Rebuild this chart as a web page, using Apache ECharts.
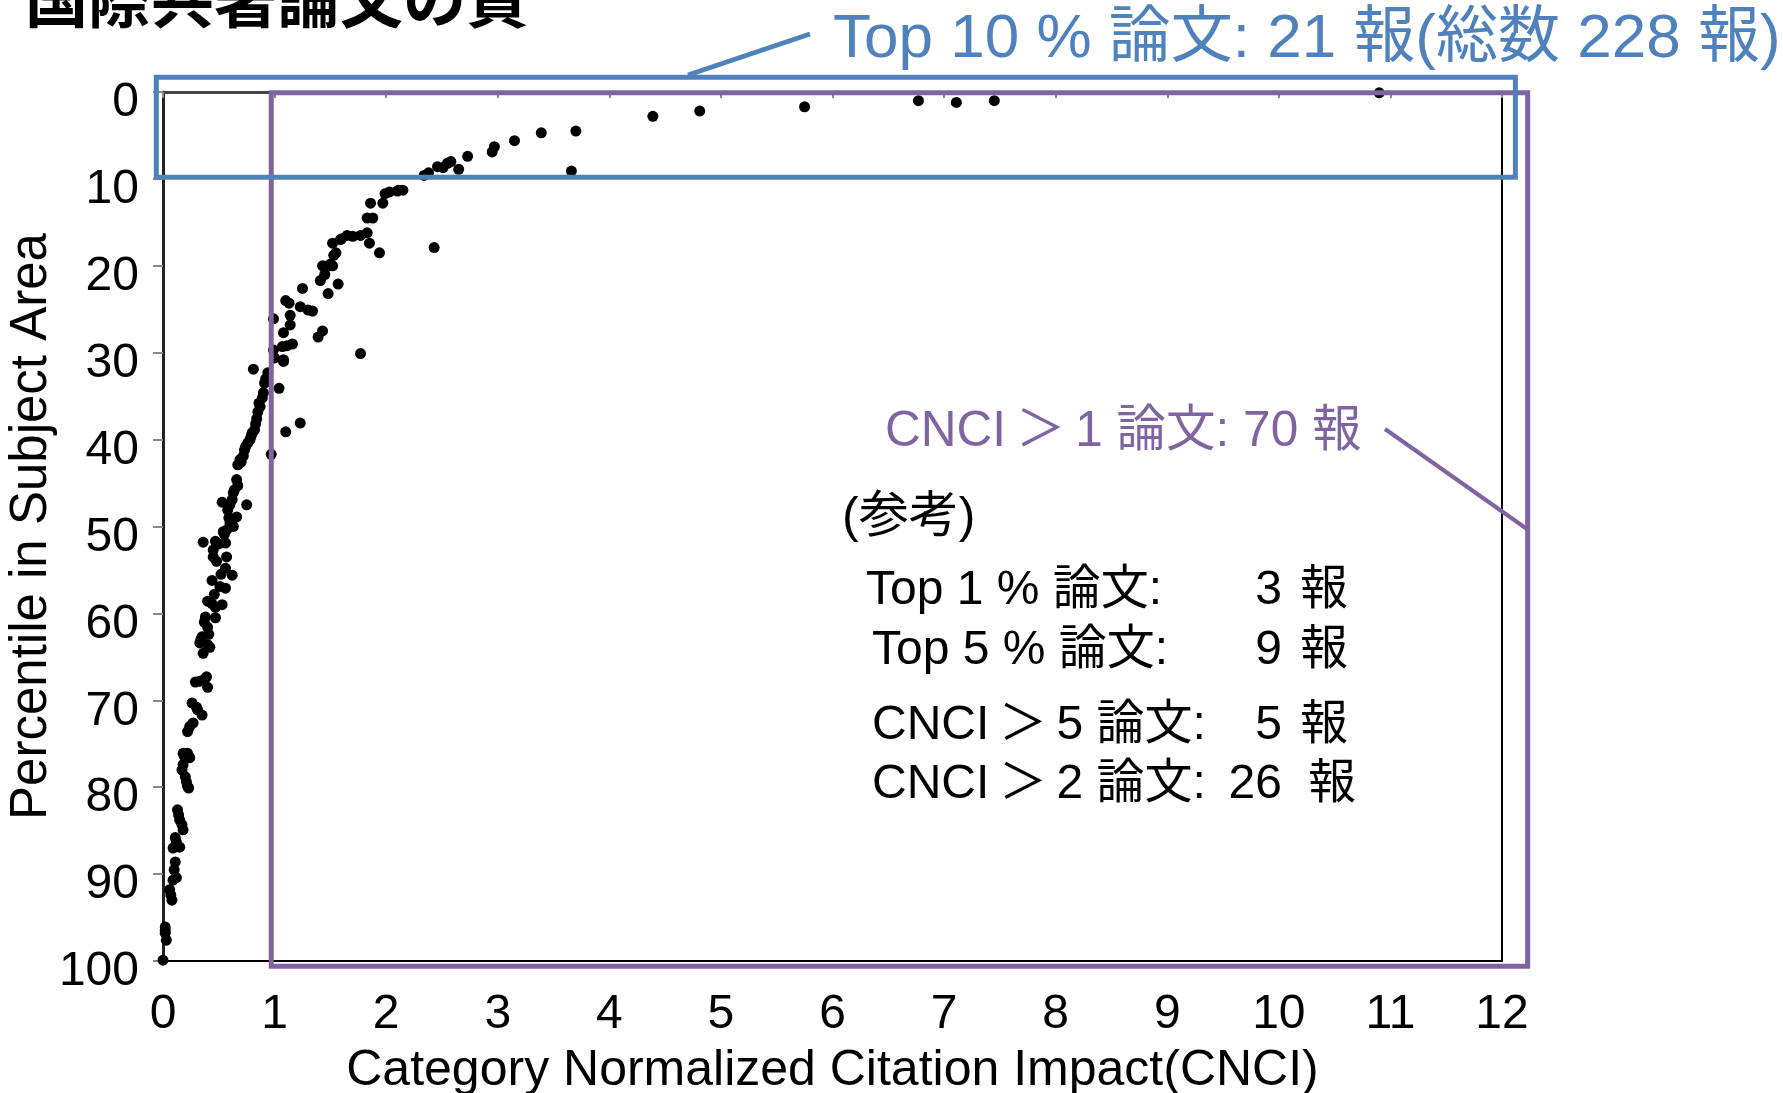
<!DOCTYPE html>
<html><head><meta charset="utf-8">
<script src="https://cdn.jsdelivr.net/npm/echarts@6/dist/echarts.min.js"></script>
<style>html,body{margin:0;padding:0;background:#fff}#c{width:1783px;height:1093px}</style>
</head><body><div id="c"></div>
<script>
// CNCI (x) vs Percentile in Subject Area (y)
const papersTop = [
  [10.9,0.1],[7.45,1.0],[7.11,1.2],[6.77,1.0],[5.75,1.7],[4.81,2.2],[4.39,2.8],[3.70,4.5],[3.39,4.7],[3.15,5.6],
  [2.97,6.3],[2.95,6.9],[2.73,7.4],[2.55,8.2],[2.51,8.7],[2.65,8.9],[2.58,8.0],[3.66,9.1],[2.38,9.3],[2.34,9.6],[2.46,8.6]
];
const papersMid = [
  [2.11,11.3],[2.15,11.3],[2.03,11.5],[2.10,11.4],[1.99,11.7],[1.86,12.8],[1.97,12.8],[1.83,14.5],[1.88,14.5],[1.83,16.2],
  [1.77,16.5],[1.70,16.6],[1.65,16.5],[1.59,17.0],[1.52,17.4],[1.85,17.4],[1.94,18.5],[2.43,17.9],[1.53,18.8],
  [1.55,18.5],[1.50,19.8],[1.60,16.9],[1.45,21.0],[1.10,24.0],[1.16,29.0],
  [1.43,20.0],[1.52,20.0],[1.47,20.1],[1.41,21.7],[1.57,22.1],[1.48,23.2],[1.25,22.6],[1.13,24.3],[1.23,24.7],[1.34,25.2],
  [1.30,25.1],[1.14,25.7],[0.99,26.1],[1.14,26.8],[1.08,27.7],[1.43,27.5],[1.39,28.2],[1.11,29.2],[1.07,29.3],[0.99,29.7],
  [1.77,30.1],[1.08,30.8],[1.00,30.6],[0.81,31.9],[0.94,32.3]
];
const papersLow = [
  [1.08,31.0],[0.91,33.5],[0.90,34.6],[1.04,34.1],[0.87,36.2],[0.85,36.8],[0.84,37.6],[1.23,38.1],[1.10,39.1],[0.82,38.9],
  [0.79,39.6],[0.76,40.4],[0.73,41.2],[0.72,41.9],[0.97,41.7],[0.67,42.9],[0.69,42.3],
  [0.92,33.0],[0.89,35.2],[0.86,35.8],[0.83,38.2],[0.78,40.0],[0.74,40.8],[0.70,42.6],[0.80,39.2],
  [0.66,44.6],[0.67,45.3],[0.63,46.1],[0.62,46.9],[0.53,47.2],[0.75,47.5],[0.58,48.1],[0.66,48.9],[0.60,49.6],[0.57,50.4],
  [0.63,50.0],[0.54,50.6],[0.36,51.8],[0.47,51.7],[0.56,51.9],[0.45,52.7],[0.57,53.5],[0.45,53.5],[0.56,54.8],[0.62,55.6],
  [0.44,56.2],[0.51,56.9],[0.56,57.1],[0.40,58.6],[0.53,59.0],[0.47,59.3],[0.38,60.4],[0.47,60.5],[0.40,61.6],[0.35,62.7],
  [0.33,63.4],[0.40,63.6],[0.42,63.9],[0.36,64.6],
  [0.64,45.8],[0.60,47.5],[0.59,49.0],[0.55,50.9],[0.50,52.0],[0.48,54.0],[0.52,55.5],[0.46,57.8],[0.44,58.9],[0.37,61.0],
  [0.34,63.0],[0.41,62.4]
];
const papersBottom = [
  [0.29,67.9],[0.39,67.3],[0.40,68.5],[0.26,70.3],[0.31,71.1],[0.35,71.7],[0.27,72.6],[0.22,73.6],[0.22,76.1],[0.18,76.1],
  [0.24,76.6],[0.17,78.0],[0.20,78.8],[0.21,79.4],[0.23,80.1],[0.13,82.6],[0.15,83.8],[0.18,84.9],[0.11,85.8],[0.15,86.9],
  [0.09,87.0],[0.11,88.6],[0.09,90.7],[0.12,90.4],[0.06,91.8],[0.08,93.0],[0.02,96.1],[0.02,96.8],[0.03,97.6],[0.0,99.9],
  [0.33,67.8],[0.37,67.6],[0.30,70.8],[0.24,73.0],[0.19,76.4],[0.18,77.4],[0.22,79.9],[0.14,83.2],[0.17,84.3],[0.12,86.3],
  [0.10,89.5],[0.07,92.4],[0.02,96.5]
];
const allPapers = papersTop.concat(papersMid, papersLow, papersBottom);

const titleText = '国際共著論文の質';
const xName = 'Category Normalized Citation Impact(CNCI)';
const yName = 'Percentile in Subject Area';
const blueNote = 'Top 10 % 論文: 21 報(総数 228 報)';
const purpleNote = 'CNCI\u2009＞\u20091 論文: 70 報';
const refHead = '(参考)';
const refRows = [
  ['Top 1 % 論文:', '3'],
  ['Top 5 % 論文:', '9'],
  ['CNCI\u2009＞\u20095 論文:', '5'],
  ['CNCI\u2009＞\u20092 論文:', '26']
];

const LAT = '"Liberation Sans", Arial, "Noto Sans CJK JP", sans-serif';
const chart = echarts.init(document.getElementById('c'), null, {renderer: 'canvas'});
chart.setOption({
  backgroundColor: '#fff',
  animation: false,
  grid: {left: 163, right: 281, top: 92, bottom: 132, containLabel: false, outerBoundsMode: 'none',
         show: true, borderColor: '#000', borderWidth: 2, backgroundColor: 'transparent'},
  xAxis: {
    type: 'value', min: 0, max: 12, interval: 1,
    name: xName, nameLocation: 'middle', nameGap: 85, nameMoveOverlap: false,
    nameTextStyle: {fontFamily: LAT, fontSize: 50, color: '#000'},
    axisLine: {show: true, lineStyle: {color: '#444', width: 3}},
    axisTick: {show: true, length: 6, lineStyle: {color: '#888', width: 2}},
    axisLabel: {fontFamily: LAT, fontSize: 48, color: '#000', margin: 30},
    splitLine: {show: false}
  },
  yAxis: {
    type: 'value', min: 0, max: 100, interval: 10, inverse: true,
    name: yName, nameLocation: 'middle', nameGap: 106, nameRotate: 90, nameMoveOverlap: false,
    nameTextStyle: {fontFamily: LAT, fontSize: 51, color: '#000'},
    axisLine: {show: true, lineStyle: {color: '#222', width: 3}},
    axisTick: {show: true, length: 10, lineStyle: {color: '#888', width: 2}},
    axisLabel: {fontFamily: LAT, fontSize: 48, color: '#000', margin: 24, verticalAlign: 'top', lineHeight: 22},
    splitLine: {show: false}
  },
  series: [{
    type: 'scatter', data: allPapers, symbol: 'circle', symbolSize: 11,
    itemStyle: {color: '#000', opacity: 1}, z: 5
  }]
});

const P = (x, y) => chart.convertToPixel({xAxisIndex: 0, yAxisIndex: 0}, [x, y]);
const b1 = P(-0.06, -1.7), b2 = P(12.12, 9.8);
const p1 = P(0.97, 0.1), p2 = P(12.23, 100.6);
const BLUE = '#4F81BD', PURPLE = '#8064A2';
const textEl = (t, x, y, size, color, align, weight) => ({
  type: 'text', x: x, y: y, z: 20, silent: true,
  style: {text: t, fill: color, fontSize: size, fontFamily: LAT, fontWeight: weight || 'normal',
          align: align || 'left', verticalAlign: 'middle'}
});
const g = [
  textEl(titleText, 25, 5, 63, '#000', 'left', 'bold'),
  {type: 'rect', z: 10, silent: true, shape: {x: b1[0], y: b1[1], width: b2[0] - b1[0], height: b2[1] - b1[1]},
   style: {fill: 'none', stroke: BLUE, lineWidth: 5}},
  {type: 'line', z: 10, silent: true, shape: {x1: 688, y1: 75, x2: 810, y2: 34}, style: {stroke: BLUE, lineWidth: 5}},
  textEl(blueNote, 833, 40, 62, BLUE),
  {type: 'rect', z: 9, silent: true, shape: {x: p1[0], y: p1[1], width: p2[0] - p1[0], height: p2[1] - p1[1]},
   style: {fill: 'none', stroke: PURPLE, lineWidth: 5}},
  {type: 'line', z: 10, silent: true, shape: {x1: 1385, y1: 429, x2: 1527, y2: 529}, style: {stroke: PURPLE, lineWidth: 4}},
  textEl(purpleNote, 885, 432, 49.5, PURPLE),
  textEl(refHead, 842, 518, 50, '#000')
];
const rowY = [591, 651, 726, 785];
const rowX = [866, 872, 872, 872];
refRows.forEach((r, i) => {
  g.push(textEl(r[0], rowX[i], rowY[i], 48, '#000'));
  g.push(textEl(r[1], 1282, rowY[i], 48, '#000', 'right'));
  g.push(textEl('報', 1300 + (i === 3 ? 8 : 0), rowY[i], 48, '#000'));
});
chart.setOption({graphic: g});
</script></body></html>
